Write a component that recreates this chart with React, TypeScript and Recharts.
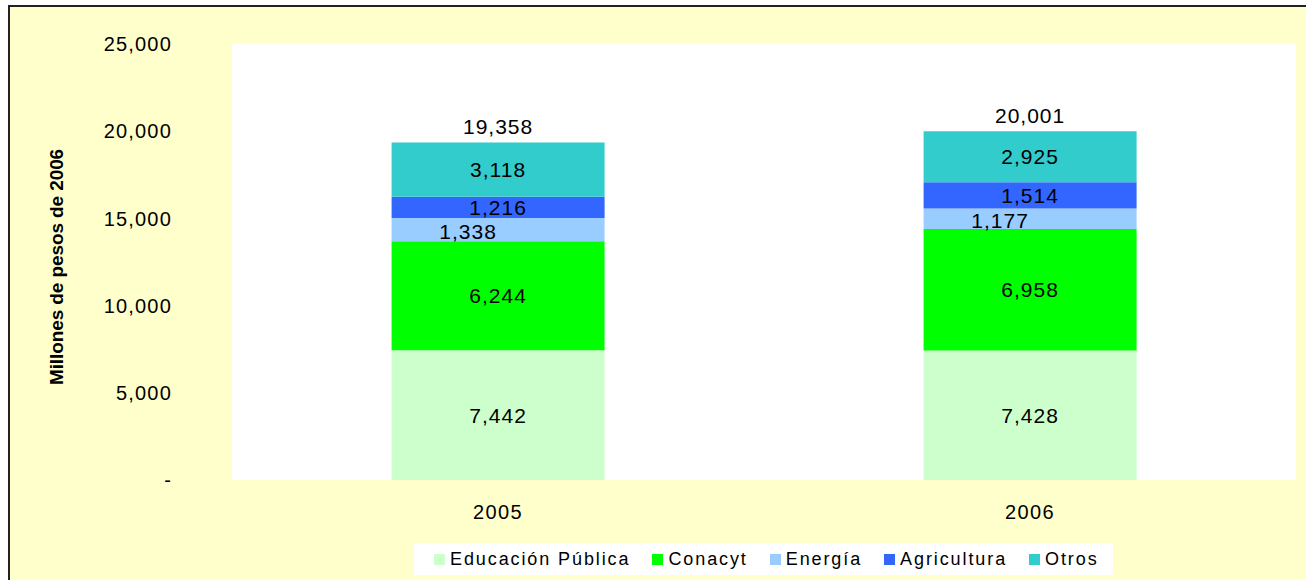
import React from 'react';
import { BarChart, Bar, XAxis, YAxis, CartesianGrid, LabelList, Legend } from 'recharts';

const years = ['2005', '2006'];
const educacionPublica = [7442, 7428];
const conacyt = [6244, 6958];
const energia = [1338, 1177];
const agricultura = [1216, 1514];
const otros = [3118, 2925];
const totals = [19358, 20001];
const yTicks = [0, 5000, 10000, 15000, 20000, 25000];

const series = [
  { key: 'educacion', name: 'Educación Pública', color: '#CCFFCC' },
  { key: 'conacyt', name: 'Conacyt', color: '#00FF00' },
  { key: 'energia', name: 'Energía', color: '#99CCFF' },
  { key: 'agricultura', name: 'Agricultura', color: '#3366FF' },
  { key: 'otros', name: 'Otros', color: '#33CCCC' },
];

const data = years.map((y, i) => ({
  year: y,
  educacion: educacionPublica[i],
  conacyt: conacyt[i],
  energia: energia[i],
  agricultura: agricultura[i],
  otros: otros[i],
  total: totals[i],
}));

const fmt = (v: any) => Number(v).toLocaleString('en-US');
const FONT = '"Liberation Sans", Arial, sans-serif';

const LegendContent = () => (
  <div
    style={{
      display: 'flex',
      alignItems: 'center',
      height: '100%',
      paddingLeft: 20,
      boxSizing: 'border-box',
      fontFamily: FONT,
      fontSize: 18,
      letterSpacing: 1.9,
      color: '#000',
    }}
  >
    {series.map((s) => (
      <div key={s.key} style={{ display: 'flex', alignItems: 'center', marginRight: 22 }}>
        <span style={{ display: 'inline-block', width: 11, height: 11, background: s.color, marginRight: 5 }} />
        <span style={{ whiteSpace: 'nowrap' }}>{s.name}</span>
      </div>
    ))}
  </div>
);

export default function App() {
  return (
    <div style={{ position: 'absolute', left: 0, top: 0, width: 1306, height: 580, overflow: 'hidden', fontFamily: FONT }}>
      <div
        style={{
          position: 'absolute',
          left: 8,
          top: 5,
          width: 1298,
          height: 575,
          borderTop: '2px solid #222',
          borderLeft: '2px solid #222',
          background: '#FFFFCC',
          boxSizing: 'border-box',
        }}
      />
      <div style={{ position: 'absolute', left: 0, top: 0 }}>
        <BarChart
          width={1306}
          height={580}
          data={data}
          barCategoryGap="30%"
          margin={{ top: 44, right: 10, bottom: 70, left: 0 }}
        >
          <CartesianGrid horizontal={false} vertical={false} fill="#FFFFFF" stroke="none" />
          <XAxis
            dataKey="year"
            axisLine={false}
            tickLine={false}
            tickSize={20}
            tickMargin={5}
            height={30}
            tick={{ fontSize: 20, fill: '#000', letterSpacing: 1.4 }}
          />
          <YAxis
            domain={[0, 25000]}
            ticks={yTicks}
            interval={0}
            width={232}
            axisLine={false}
            tickLine={false}
            tickSize={60}
            tickMargin={0}
            tickFormatter={(v: number) => (v === 0 ? '-' : fmt(v))}
            tick={{ fontSize: 20, fill: '#000', letterSpacing: 1.2 }}
            label={{
              value: 'Millones de pesos  de 2006',
              angle: -90,
              position: 'center',
              dx: -60,
              dy: 5,
              style: {
                fontFamily: FONT,
                fontWeight: 'bold',
                fontSize: 19,
                letterSpacing: -0.1,
                fill: '#000',
              },
            }}
          />
          <Legend
            layout="horizontal"
            verticalAlign="middle"
            align="center"
            wrapperStyle={{ left: 414, top: 543, width: 699, height: 32, background: '#FFFFFF' }}
            content={() => <LegendContent />}
          />
          {series.map((s, idx) => (
            <Bar
              key={s.key}
              dataKey={s.key}
              name={s.name}
              stackId="a"
              fill={s.color}
              isAnimationActive={false}
            >
              <LabelList
                dataKey={s.key}
                position="center"
                formatter={fmt}
                fill="#000"
                fontSize={21}
                letterSpacing={1}
                dx={s.key === 'energia' ? -30 : 0}
                dy={s.key === 'energia' ? 2 : 0}
              />
              {idx === series.length - 1 ? (
                <LabelList
                  dataKey="total"
                  valueAccessor={(entry: any) => entry?.payload?.total}
                  position="top"
                  offset={8}
                  formatter={fmt}
                  fill="#000"
                  fontSize={21}
                  letterSpacing={1}
                />
              ) : null}
            </Bar>
          ))}
        </BarChart>
      </div>
    </div>
  );
}
